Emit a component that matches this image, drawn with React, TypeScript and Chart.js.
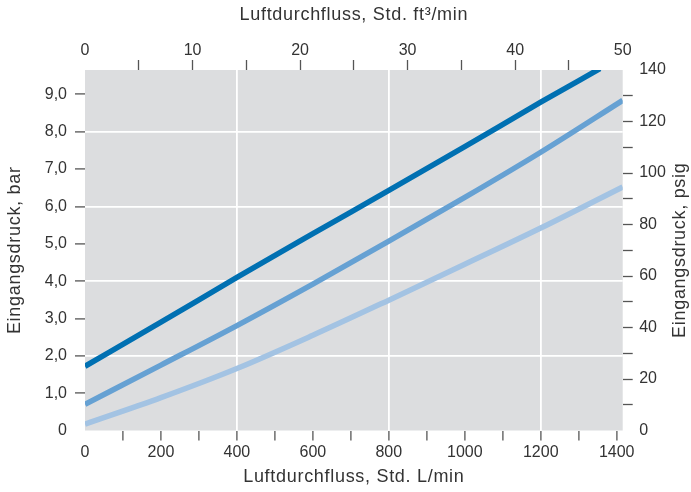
import React, { useEffect, useRef } from 'react';
import { Chart, registerables } from 'chart.js';

Chart.register(...registerables);

// ---- Data ----
const FLOW_LMIN = [0, 200, 400, 600, 800, 1000, 1200, 1415.8];
const DARK_FLOW = [0, 200, 400, 600, 800, 1000, 1200, 1356];
const DARK_BAR = [1.72, 2.9, 4.1, 5.27, 6.43, 7.6, 8.79, 9.69];
const MEDIUM_BAR = [0.7, 1.75, 2.81, 3.92, 5.07, 6.24, 7.45, 8.84];
const LIGHT_BAR = [0.17, 0.88, 1.66, 2.55, 3.49, 4.45, 5.42, 6.52];

// ---- Tick labels ----
const BOTTOM_TICKS = ['0', '200', '400', '600', '800', '1000', '1200', '1400'];
const TOP_TICKS = ['0', '10', '20', '30', '40', '50'];
const LEFT_TICKS = ['0', '1,0', '2,0', '3,0', '4,0', '5,0', '6,0', '7,0', '8,0', '9,0'];
const RIGHT_TICKS = ['0', '20', '40', '60', '80', '100', '120', '140'];
const GRID_FLOW = [400, 800, 1200];
const GRID_BAR = [2, 4, 6, 8];

const TITLE_TOP = 'Luftdurchfluss, Std. ft³/min';
const TITLE_BOTTOM = 'Luftdurchfluss, Std. L/min';
const TITLE_LEFT = 'Eingangsdruck, bar';
const TITLE_RIGHT = 'Eingangsdruck, psig';

const L_PER_CFM = 28.3168;
const PSI_PER_BAR = 14.5038;
const CFM_MAX = 50;
const PSI_MAX = 140;
const FLOW_MAX = CFM_MAX * L_PER_CFM;
const BAR_MAX = PSI_MAX / PSI_PER_BAR;

const COLORS = { dark: '#0070b2', medium: '#66a1d3', light: '#a3c3e3' };
const BG = '#dcdddf';
const TEXT = '#333333';
const TICK = '#555555';
const FONT = '"Liberation Sans", Arial, Helvetica, sans-serif';

const pts = (xs: number[], ys: number[]) => xs.map((x, i) => ({ x, y: ys[i] }));

const bgPlugin = {
  id: 'plotBg',
  beforeDraw(chart: any) {
    const { ctx, chartArea: a } = chart;
    ctx.save();
    ctx.fillStyle = BG;
    ctx.fillRect(a.left, a.top, a.right - a.left, a.bottom - a.top);
    ctx.restore();
  },
};

const titlePlugin = {
  id: 'axisTitles',
  afterDraw(chart: any) {
    const { ctx, chartArea: a } = chart;
    const cx = (a.left + a.right) / 2;
    const cy = (a.top + a.bottom) / 2;
    ctx.save();
    ctx.fillStyle = TEXT;
    ctx.font = `18px ${FONT}`;
    try { (ctx as any).letterSpacing = '0.7px'; } catch (e) {}
    ctx.textAlign = 'center';
    ctx.textBaseline = 'middle';
    ctx.fillText(TITLE_TOP, cx, 15.5);
    ctx.fillText(TITLE_BOTTOM, cx, 477.5);
    ctx.save();
    ctx.translate(15, cy);
    ctx.rotate(-Math.PI / 2);
    ctx.fillText(TITLE_LEFT, 0, 0);
    ctx.restore();
    ctx.save();
    ctx.translate(680, cy);
    ctx.rotate(-Math.PI / 2);
    ctx.fillText(TITLE_RIGHT, 0, 0);
    ctx.restore();
    ctx.restore();
  },
};

const tickColor = (max: number) => (c: any) =>
  c.tick && (c.tick.value === 0 || Math.abs(c.tick.value - max) < 1e-6) ? 'rgba(0,0,0,0)' : TICK;

export default function App() {
  const ref = useRef<HTMLCanvasElement | null>(null);

  useEffect(() => {
    if (!ref.current) return;
    const tickFont = { family: FONT, size: 16 };
    const chart = new Chart(ref.current, {
      type: 'line',
      data: {
        datasets: [
          { label: 'dark', data: pts(DARK_FLOW, DARK_BAR), borderColor: COLORS.dark },
          { label: 'medium', data: pts(FLOW_LMIN, MEDIUM_BAR), borderColor: COLORS.medium },
          { label: 'light', data: pts(FLOW_LMIN, LIGHT_BAR), borderColor: COLORS.light },
        ].map((d) => ({
          ...d,
          xAxisID: 'x',
          yAxisID: 'y',
          borderWidth: 5.5,
          pointRadius: 0,
          fill: false,
          cubicInterpolationMode: 'monotone' as const,
          clip: 0,
        })),
      },
      options: {
        responsive: false,
        animation: false,
        events: [],
        layout: { padding: 0 },
        plugins: { legend: { display: false }, tooltip: { enabled: false }, title: { display: false } },
        scales: {
          x: {
            type: 'linear',
            position: 'bottom',
            min: 0,
            max: FLOW_MAX,
            afterFit: (s: any) => { s.height = 61.5; },
            border: { display: false },
            grid: {
              drawOnChartArea: true,
              drawTicks: true,
              tickLength: 10,
              lineWidth: 1.8,
              tickWidth: 1.3,
              color: (c: any) => (c.tick && GRID_FLOW.includes(c.tick.value) ? '#ffffff' : 'rgba(0,0,0,0)'),
              tickColor: tickColor(FLOW_MAX),
            },
            ticks: {
              stepSize: 100,
              includeBounds: false,
              autoSkip: false,
              maxRotation: 0,
              padding: 2,
              color: TEXT,
              font: tickFont,
              callback: (v: any) => (Number(v) % 200 === 0 ? BOTTOM_TICKS[Number(v) / 200] : ''),
            },
          },
          x2: {
            type: 'linear',
            position: 'top',
            min: 0,
            max: CFM_MAX,
            afterFit: (s: any) => { s.height = 70; },
            border: { display: false },
            grid: {
              drawOnChartArea: false,
              drawTicks: true,
              tickLength: 10,
              tickWidth: 1.3,
              tickColor: tickColor(CFM_MAX),
            },
            ticks: {
              stepSize: 5,
              autoSkip: false,
              maxRotation: 0,
              padding: 0,
              color: TEXT,
              font: tickFont,
              callback: (v: any) => (Number(v) % 10 === 0 ? TOP_TICKS[Number(v) / 10] : ''),
            },
          },
          y: {
            type: 'linear',
            position: 'left',
            min: 0,
            max: BAR_MAX,
            afterFit: (s: any) => { s.width = 85; },
            border: { display: false },
            grid: {
              drawOnChartArea: true,
              drawTicks: true,
              tickLength: 10,
              lineWidth: 1.8,
              tickWidth: 1.3,
              color: (c: any) => (c.tick && GRID_BAR.includes(c.tick.value) ? '#ffffff' : 'rgba(0,0,0,0)'),
              tickColor: tickColor(BAR_MAX),
            },
            ticks: {
              stepSize: 1,
              includeBounds: false,
              autoSkip: false,
              padding: 8,
              color: TEXT,
              font: tickFont,
              callback: (v: any) => LEFT_TICKS[Math.round(Number(v))] ?? '',
            },
          },
          y2: {
            type: 'linear',
            position: 'right',
            min: 0,
            max: PSI_MAX,
            afterFit: (s: any) => { s.width = 68.3; },
            border: { display: false },
            grid: {
              drawOnChartArea: false,
              drawTicks: true,
              tickLength: 10,
              tickWidth: 1.3,
              tickColor: tickColor(PSI_MAX),
            },
            ticks: {
              stepSize: 10,
              autoSkip: false,
              padding: 6.5,
              color: TEXT,
              font: tickFont,
              callback: (v: any) => (Number(v) % 20 === 0 ? RIGHT_TICKS[Number(v) / 20] : ''),
            },
          },
        },
      } as any,
      plugins: [bgPlugin, titlePlugin],
    });
    return () => chart.destroy();
  }, []);

  return (
    <div style={{ position: 'fixed', left: 0, top: 0, width: 691, height: 492, background: '#ffffff' }}>
      <canvas ref={ref} width={691} height={492} style={{ display: 'block', width: 691, height: 492 }} />
    </div>
  );
}
